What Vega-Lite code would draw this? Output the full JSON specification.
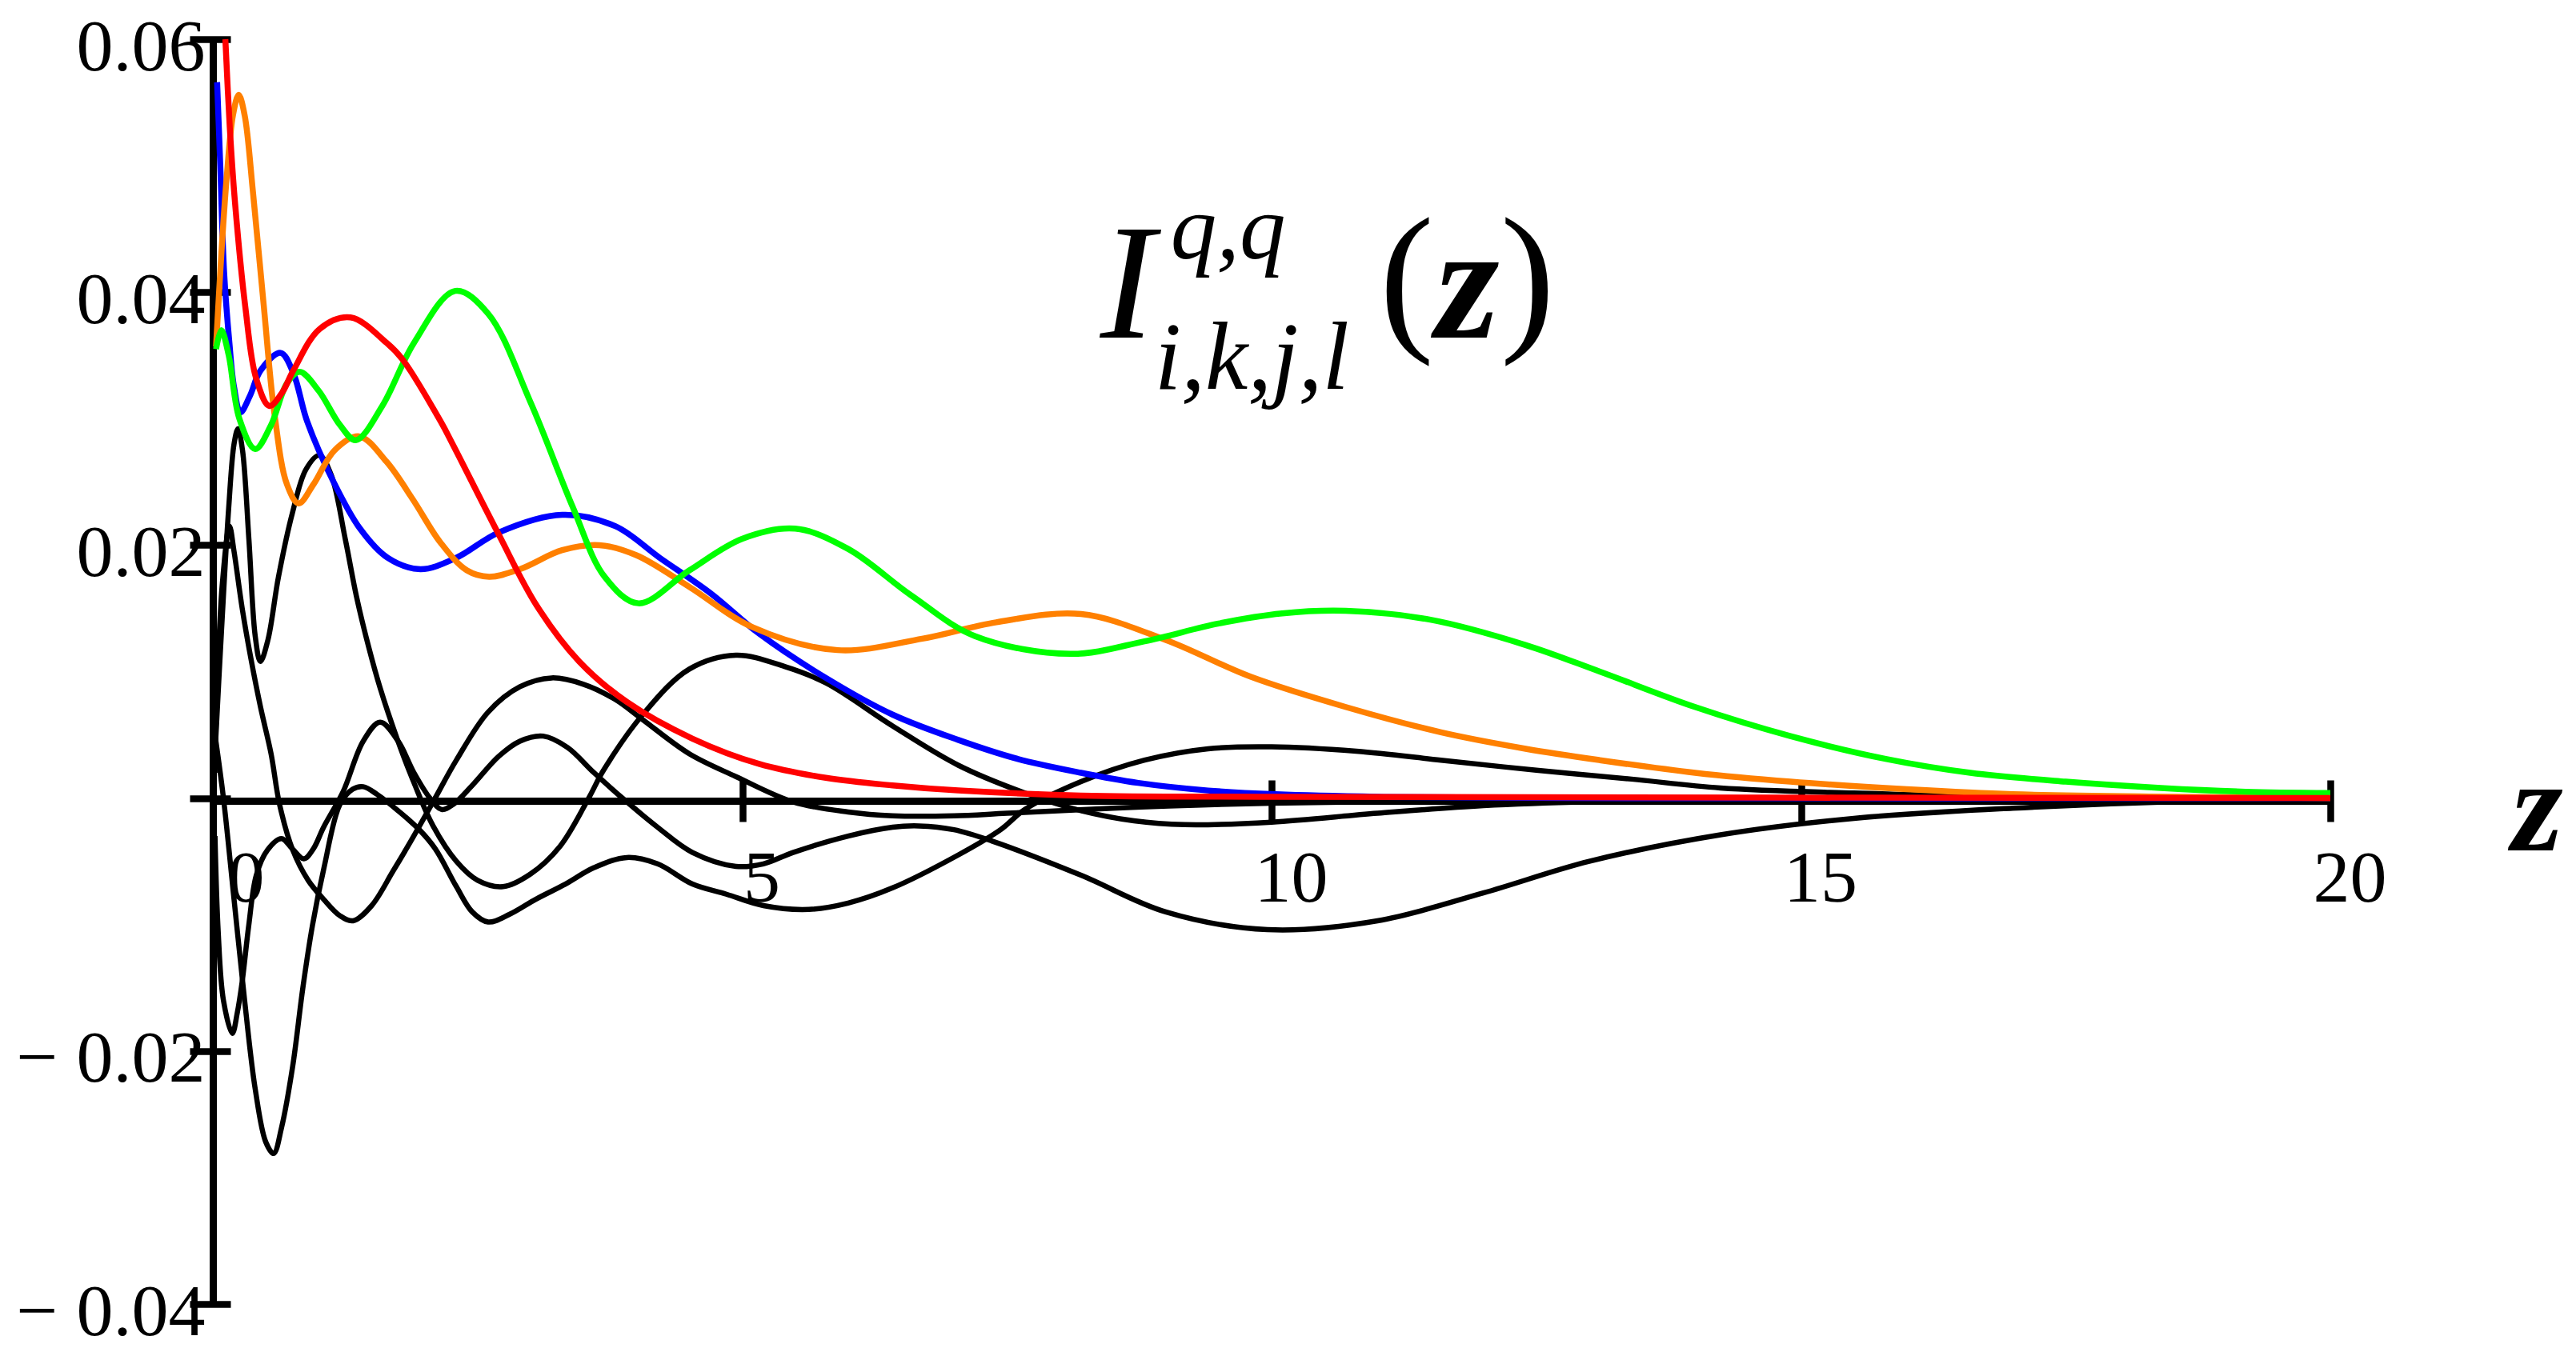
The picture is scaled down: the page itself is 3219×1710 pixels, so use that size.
{
  "$schema": "https://vega.github.io/schema/vega-lite/v6.json",
  "width": 2646,
  "height": 1581,
  "autosize": {"type": "none"},
  "padding": {"left": 266, "top": 49, "right": 307, "bottom": 80},
  "background": "white",
  "config": {"view": {"stroke": null}},
  "datasets": {
    "black": [
      {"s":"k1","z":0.02,"v":0.0035},{"s":"k1","z":0.08,"v":0.013},{"s":"k1","z":0.15,"v":0.023},{"s":"k1","z":0.2,"v":0.028},{"s":"k1","z":0.237,"v":0.0292},{"s":"k1","z":0.28,"v":0.0275},{"s":"k1","z":0.34,"v":0.0205},{"s":"k1","z":0.4,"v":0.0128},{"s":"k1","z":0.449,"v":0.0108},{"s":"k1","z":0.52,"v":0.0125},{"s":"k1","z":0.62,"v":0.0175},{"s":"k1","z":0.75,"v":0.0225},{"s":"k1","z":0.88,"v":0.026},{"s":"k1","z":1.006,"v":0.0271},{"s":"k1","z":1.12,"v":0.0255},{"s":"k1","z":1.25,"v":0.0205},{"s":"k1","z":1.36,"v":0.0158},{"s":"k1","z":1.47,"v":0.012},{"s":"k1","z":1.58,"v":0.0087},{"s":"k1","z":1.74,"v":0.0047},{"s":"k1","z":1.9,"v":0.0012},{"s":"k1","z":2.08,"v":-0.0022},{"s":"k1","z":2.3,"v":-0.005},{"s":"k1","z":2.5,"v":-0.0065},{"s":"k1","z":2.74,"v":-0.007},{"s":"k1","z":3.0,"v":-0.006},{"s":"k1","z":3.28,"v":-0.0038},{"s":"k1","z":3.55,"v":0.0},{"s":"k1","z":3.69,"v":0.0022},{"s":"k1","z":4.06,"v":0.0066},{"s":"k1","z":4.5,"v":0.0102},{"s":"k1","z":4.94,"v":0.0113},{"s":"k1","z":5.4,"v":0.0104},{"s":"k1","z":5.79,"v":0.0091},{"s":"k1","z":6.42,"v":0.0057},{"s":"k1","z":7.04,"v":0.0026},{"s":"k1","z":7.67,"v":0.0004},{"s":"k1","z":8.2,"v":-0.001},{"s":"k1","z":8.7,"v":-0.0018},{"s":"k1","z":9.18,"v":-0.0021},{"s":"k1","z":10,"v":-0.0019},{"s":"k1","z":11,"v":-0.0012},{"s":"k1","z":12,"v":-0.0006},{"s":"k1","z":13,"v":-0.0003},{"s":"k1","z":15,"v":-0.0001},{"s":"k1","z":20,"v":0.0},
      {"s":"k2","z":0.02,"v":0.002},{"s":"k2","z":0.04,"v":0.0087},{"s":"k2","z":0.09,"v":0.017},{"s":"k2","z":0.157,"v":0.0215},{"s":"k2","z":0.2,"v":0.0195},{"s":"k2","z":0.277,"v":0.015},{"s":"k2","z":0.36,"v":0.011},{"s":"k2","z":0.45,"v":0.0072},{"s":"k2","z":0.55,"v":0.0035},{"s":"k2","z":0.63,"v":-0.0005},{"s":"k2","z":0.754,"v":-0.0041},{"s":"k2","z":0.9,"v":-0.0065},{"s":"k2","z":1.046,"v":-0.008},{"s":"k2","z":1.2,"v":-0.0093},{"s":"k2","z":1.325,"v":-0.0097},{"s":"k2","z":1.5,"v":-0.0085},{"s":"k2","z":1.7,"v":-0.0058},{"s":"k2","z":1.87,"v":-0.0034},{"s":"k2","z":2.08,"v":-0.0003},{"s":"k2","z":2.3,"v":0.003},{"s":"k2","z":2.6,"v":0.0068},{"s":"k2","z":2.9,"v":0.0088},{"s":"k2","z":3.2,"v":0.0095},{"s":"k2","z":3.5,"v":0.009},{"s":"k2","z":3.8,"v":0.0078},{"s":"k2","z":4.06,"v":0.0062},{"s":"k2","z":4.5,"v":0.0035},{"s":"k2","z":4.94,"v":0.0017},{"s":"k2","z":5.48,"v":-0.0003},{"s":"k2","z":6.0,"v":-0.0011},{"s":"k2","z":6.42,"v":-0.0014},{"s":"k2","z":7.0,"v":-0.0014},{"s":"k2","z":7.5,"v":-0.0012},{"s":"k2","z":8.5,"v":-0.0008},{"s":"k2","z":10,"v":-0.0004},{"s":"k2","z":12,"v":-0.0002},{"s":"k2","z":14,"v":-0.0001},{"s":"k2","z":20,"v":0.0},
      {"s":"k3","z":0.02,"v":-0.003},{"s":"k3","z":0.05,"v":-0.0105},{"s":"k3","z":0.1,"v":-0.016},{"s":"k3","z":0.184,"v":-0.0186},{"s":"k3","z":0.23,"v":-0.017},{"s":"k3","z":0.277,"v":-0.0145},{"s":"k3","z":0.34,"v":-0.01},{"s":"k3","z":0.41,"v":-0.0061},{"s":"k3","z":0.516,"v":-0.0041},{"s":"k3","z":0.648,"v":-0.0032},{"s":"k3","z":0.75,"v":-0.004},{"s":"k3","z":0.86,"v":-0.0048},{"s":"k3","z":0.95,"v":-0.004},{"s":"k3","z":1.046,"v":-0.0023},{"s":"k3","z":1.23,"v":0.0005},{"s":"k3","z":1.42,"v":0.0045},{"s":"k3","z":1.58,"v":0.006},{"s":"k3","z":1.75,"v":0.0045},{"s":"k3","z":1.9,"v":0.002},{"s":"k3","z":2.05,"v":0.0},{"s":"k3","z":2.16,"v":-0.0009},{"s":"k3","z":2.27,"v":-0.0005},{"s":"k3","z":2.45,"v":0.001},{"s":"k3","z":2.7,"v":0.0033},{"s":"k3","z":2.9,"v":0.0045},{"s":"k3","z":3.12,"v":0.0049},{"s":"k3","z":3.35,"v":0.004},{"s":"k3","z":3.6,"v":0.002},{"s":"k3","z":3.91,"v":-0.0003},{"s":"k3","z":4.2,"v":-0.0023},{"s":"k3","z":4.53,"v":-0.0043},{"s":"k3","z":4.94,"v":-0.0054},{"s":"k3","z":5.2,"v":-0.0052},{"s":"k3","z":5.48,"v":-0.0043},{"s":"k3","z":6.0,"v":-0.003},{"s":"k3","z":6.42,"v":-0.0023},{"s":"k3","z":6.67,"v":-0.0022},{"s":"k3","z":7.0,"v":-0.0025},{"s":"k3","z":7.36,"v":-0.0034},{"s":"k3","z":8.2,"v":-0.0061},{"s":"k3","z":9.0,"v":-0.009},{"s":"k3","z":9.96,"v":-0.0104},{"s":"k3","z":11.0,"v":-0.0097},{"s":"k3","z":12.0,"v":-0.0075},{"s":"k3","z":13.0,"v":-0.005},{"s":"k3","z":14.24,"v":-0.0029},{"s":"k3","z":15.5,"v":-0.0016},{"s":"k3","z":17,"v":-0.0008},{"s":"k3","z":18.5,"v":-0.0003},{"s":"k3","z":20,"v":-0.0001},
      {"s":"k4","z":0.02,"v":0.005},{"s":"k4","z":0.1,"v":0.0},{"s":"k4","z":0.2,"v":-0.008},{"s":"k4","z":0.3,"v":-0.016},{"s":"k4","z":0.4,"v":-0.023},{"s":"k4","z":0.5,"v":-0.0272},{"s":"k4","z":0.574,"v":-0.0281},{"s":"k4","z":0.65,"v":-0.026},{"s":"k4","z":0.754,"v":-0.0212},{"s":"k4","z":0.85,"v":-0.015},{"s":"k4","z":0.94,"v":-0.0101},{"s":"k4","z":1.05,"v":-0.0055},{"s":"k4","z":1.2,"v":-0.0005},{"s":"k4","z":1.32,"v":0.0007},{"s":"k4","z":1.42,"v":0.0009},{"s":"k4","z":1.55,"v":0.0003},{"s":"k4","z":1.75,"v":-0.001},{"s":"k4","z":1.95,"v":-0.0025},{"s":"k4","z":2.1,"v":-0.004},{"s":"k4","z":2.3,"v":-0.007},{"s":"k4","z":2.45,"v":-0.009},{"s":"k4","z":2.6,"v":-0.0098},{"s":"k4","z":2.8,"v":-0.0092},{"s":"k4","z":3.05,"v":-0.008},{"s":"k4","z":3.33,"v":-0.0068},{"s":"k4","z":3.6,"v":-0.0055},{"s":"k4","z":3.91,"v":-0.0047},{"s":"k4","z":4.2,"v":-0.0052},{"s":"k4","z":4.53,"v":-0.0068},{"s":"k4","z":4.85,"v":-0.0076},{"s":"k4","z":5.2,"v":-0.0085},{"s":"k4","z":5.63,"v":-0.0088},{"s":"k4","z":6.0,"v":-0.0083},{"s":"k4","z":6.42,"v":-0.0071},{"s":"k4","z":7.04,"v":-0.0045},{"s":"k4","z":7.44,"v":-0.0025},{"s":"k4","z":7.67,"v":-0.0009},{"s":"k4","z":8.2,"v":0.0013},{"s":"k4","z":8.8,"v":0.003},{"s":"k4","z":9.4,"v":0.0039},{"s":"k4","z":10.0,"v":0.00405},{"s":"k4","z":10.8,"v":0.0037},{"s":"k4","z":11.6,"v":0.003},{"s":"k4","z":12.5,"v":0.0022},{"s":"k4","z":13.4,"v":0.0015},{"s":"k4","z":14.24,"v":0.0008},{"s":"k4","z":15.5,"v":0.0004},{"s":"k4","z":17,"v":0.0001},{"s":"k4","z":20,"v":0.0}
    ],
    "colored": [
      {"s":"blue","z":0.04,"v":0.0566},{"s":"blue","z":0.07,"v":0.05},{"s":"blue","z":0.106,"v":0.0416},{"s":"blue","z":0.156,"v":0.036},{"s":"blue","z":0.2,"v":0.0325},{"s":"blue","z":0.26,"v":0.0305},{"s":"blue","z":0.35,"v":0.0318},{"s":"blue","z":0.45,"v":0.0338},{"s":"blue","z":0.64,"v":0.0352},{"s":"blue","z":0.76,"v":0.0336},{"s":"blue","z":0.89,"v":0.0298},{"s":"blue","z":1.14,"v":0.025},{"s":"blue","z":1.39,"v":0.0213},{"s":"blue","z":1.65,"v":0.019},{"s":"blue","z":1.96,"v":0.0181},{"s":"blue","z":2.3,"v":0.019},{"s":"blue","z":2.7,"v":0.021},{"s":"blue","z":3.3,"v":0.0224},{"s":"blue","z":3.8,"v":0.0215},{"s":"blue","z":4.22,"v":0.019},{"s":"blue","z":4.7,"v":0.0162},{"s":"blue","z":5.16,"v":0.013},{"s":"blue","z":5.79,"v":0.0095},{"s":"blue","z":6.42,"v":0.0066},{"s":"blue","z":7.04,"v":0.0046},{"s":"blue","z":7.6,"v":0.0031},{"s":"blue","z":8.2,"v":0.002},{"s":"blue","z":8.74,"v":0.0012},{"s":"blue","z":9.4,"v":0.0006},{"s":"blue","z":10.04,"v":0.0003},{"s":"blue","z":11,"v":0.0001},{"s":"blue","z":12.8,"v":0.0},{"s":"blue","z":20,"v":0.0},
      {"s":"orange","z":0.03,"v":0.0357},{"s":"orange","z":0.08,"v":0.043},{"s":"orange","z":0.13,"v":0.049},{"s":"orange","z":0.19,"v":0.054},{"s":"orange","z":0.244,"v":0.0556},{"s":"orange","z":0.3,"v":0.054},{"s":"orange","z":0.38,"v":0.0478},{"s":"orange","z":0.48,"v":0.039},{"s":"orange","z":0.58,"v":0.0305},{"s":"orange","z":0.7,"v":0.0248},{"s":"orange","z":0.81,"v":0.0233},{"s":"orange","z":0.95,"v":0.0248},{"s":"orange","z":1.15,"v":0.0275},{"s":"orange","z":1.38,"v":0.0286},{"s":"orange","z":1.64,"v":0.0266},{"s":"orange","z":1.89,"v":0.0236},{"s":"orange","z":2.15,"v":0.0202},{"s":"orange","z":2.4,"v":0.018},{"s":"orange","z":2.61,"v":0.0175},{"s":"orange","z":2.9,"v":0.0181},{"s":"orange","z":3.3,"v":0.0196},{"s":"orange","z":3.65,"v":0.02},{"s":"orange","z":4.0,"v":0.0192},{"s":"orange","z":4.5,"v":0.0167},{"s":"orange","z":5.1,"v":0.0135},{"s":"orange","z":5.9,"v":0.0117},{"s":"orange","z":6.7,"v":0.0126},{"s":"orange","z":7.4,"v":0.0139},{"s":"orange","z":8.2,"v":0.01455},{"s":"orange","z":9.0,"v":0.0125},{"s":"orange","z":9.8,"v":0.0096},{"s":"orange","z":10.7,"v":0.0072},{"s":"orange","z":11.6,"v":0.0052},{"s":"orange","z":12.4,"v":0.0039},{"s":"orange","z":13.1,"v":0.003},{"s":"orange","z":14.0,"v":0.002},{"s":"orange","z":14.9,"v":0.0013},{"s":"orange","z":16,"v":0.0007},{"s":"orange","z":17,"v":0.0003},{"s":"orange","z":18.5,"v":0.0001},{"s":"orange","z":20,"v":0.0},
      {"s":"green","z":0.03,"v":0.0355},{"s":"green","z":0.08,"v":0.037},{"s":"green","z":0.15,"v":0.035},{"s":"green","z":0.25,"v":0.03},{"s":"green","z":0.4,"v":0.0276},{"s":"green","z":0.55,"v":0.0295},{"s":"green","z":0.7,"v":0.0328},{"s":"green","z":0.82,"v":0.0337},{"s":"green","z":1.0,"v":0.0322},{"s":"green","z":1.2,"v":0.0295},{"s":"green","z":1.35,"v":0.0283},{"s":"green","z":1.6,"v":0.031},{"s":"green","z":1.9,"v":0.036},{"s":"green","z":2.29,"v":0.0401},{"s":"green","z":2.6,"v":0.0383},{"s":"green","z":3.0,"v":0.0313},{"s":"green","z":3.4,"v":0.023},{"s":"green","z":3.7,"v":0.0175},{"s":"green","z":4.02,"v":0.0154},{"s":"green","z":4.5,"v":0.018},{"s":"green","z":5.0,"v":0.0205},{"s":"green","z":5.5,"v":0.0213},{"s":"green","z":6.0,"v":0.0197},{"s":"green","z":6.6,"v":0.016},{"s":"green","z":7.2,"v":0.0128},{"s":"green","z":8.1,"v":0.0114},{"s":"green","z":8.8,"v":0.0124},{"s":"green","z":9.5,"v":0.0138},{"s":"green","z":10.1,"v":0.0146},{"s":"green","z":10.7,"v":0.0148},{"s":"green","z":11.5,"v":0.0141},{"s":"green","z":12.4,"v":0.0121},{"s":"green","z":13.1,"v":0.01},{"s":"green","z":14.0,"v":0.0072},{"s":"green","z":14.9,"v":0.0049},{"s":"green","z":15.8,"v":0.0031},{"s":"green","z":16.6,"v":0.002},{"s":"green","z":17.5,"v":0.0013},{"s":"green","z":18.4,"v":0.0008},{"s":"green","z":19.2,"v":0.0005},{"s":"green","z":20,"v":0.0004},
      {"s":"red","z":0.118,"v":0.06},{"s":"red","z":0.16,"v":0.053},{"s":"red","z":0.207,"v":0.0473},{"s":"red","z":0.307,"v":0.0388},{"s":"red","z":0.408,"v":0.0332},{"s":"red","z":0.534,"v":0.031},{"s":"red","z":0.65,"v":0.032},{"s":"red","z":0.76,"v":0.0338},{"s":"red","z":1.01,"v":0.0371},{"s":"red","z":1.3,"v":0.038},{"s":"red","z":1.64,"v":0.036},{"s":"red","z":1.79,"v":0.0347},{"s":"red","z":2.15,"v":0.0298},{"s":"red","z":2.27,"v":0.0279},{"s":"red","z":2.69,"v":0.021},{"s":"red","z":3.06,"v":0.0152},{"s":"red","z":3.46,"v":0.0108},{"s":"red","z":3.91,"v":0.0076},{"s":"red","z":4.53,"v":0.0047},{"s":"red","z":5.16,"v":0.0027},{"s":"red","z":5.79,"v":0.0016},{"s":"red","z":6.42,"v":0.001},{"s":"red","z":7.04,"v":0.0006},{"s":"red","z":8.2,"v":0.0002},{"s":"red","z":10,"v":0.0001},{"s":"red","z":20,"v":0.0}
    ]
  },
  "resolve": {"axis": {"x": "independent", "y": "independent"}},
  "layer": [
    {
      "data": {"name": "black"},
      "mark": {"type": "line", "stroke": "black", "strokeWidth": 6.5, "interpolate": "catmull-rom"},
      "encoding": {
        "x": {"field": "z", "type": "quantitative",
              "scale": {"domain": [0, 20], "nice": false, "zero": false},
              "axis": {"orient": "bottom", "offset": -629, "values": [0, 5, 10, 15, 20], "format": "d",
                       "ticks": false, "grid": false, "domain": true, "domainColor": "black", "domainWidth": 9,
                       "labelFont": "Liberation Serif", "labelFontSize": 92, "labelColor": "black",
                       "labelBaseline": "alphabetic", "labelPadding": 125, "labelAlign": "center",
                       "labelOffset": {"condition": {"test": "datum.value == 0", "value": 41}, "value": 24},
                       "labelFlush": false, "labelOverlap": false, "labelBound": false, "labelLimit": 1000,
                       "title": "z", "titleFont": "Liberation Serif", "titleFontStyle": "italic", "titleFontWeight": "bold",
                       "titleFontSize": 165, "titleColor": "black", "titleX": 2904, "titleY": 61,
                       "titleAlign": "center", "titleBaseline": "alphabetic", "titleAngle": 0}},
        "y": {"field": "v", "type": "quantitative",
              "scale": {"domain": [-0.04, 0.06], "nice": false, "zero": false},
              "axis": {"orient": "left", "offset": 0, "values": [-0.04, -0.02, 0.02, 0.04, 0.06],
                       "ticks": false, "grid": false, "domain": true, "domainColor": "black", "domainWidth": 9,
                       "labelFont": "Liberation Serif", "labelFontSize": 92, "labelColor": "black",
                       "labelBaseline": "alphabetic", "labelAlign": "right", "labelPadding": 10, "labelOffset": 38,
                       "labelExpr": "datum.value < 0 ? '\u2212 ' + format(-datum.value, '.2f') : format(datum.value, '.2f')",
                       "labelFlush": false, "labelOverlap": false, "labelBound": false, "labelLimit": 1000, "title": null}},
        "detail": {"field": "s", "type": "nominal"}
      }
    },
    {
      "data": {"name": "colored"},
      "mark": {"type": "line", "strokeWidth": 7.5, "interpolate": "catmull-rom"},
      "encoding": {
        "x": {"field": "z", "type": "quantitative",
              "axis": {"orient": "bottom", "offset": -655, "values": [0, 5, 10, 15, 20],
                       "ticks": true, "tickSize": 52, "tickWidth": 8.5, "tickColor": "black",
                       "labels": false, "domain": false, "grid": false, "title": null}},
        "y": {"field": "v", "type": "quantitative",
              "axis": {"orient": "left", "offset": -22, "values": [-0.04, -0.02, 0, 0.02, 0.04, 0.06],
                       "ticks": true, "tickSize": 51, "tickWidth": 8.5, "tickColor": "black",
                       "labels": false, "domain": false, "grid": false, "title": null}},
        "color": {"field": "s", "type": "nominal",
                  "scale": {"domain": ["blue", "orange", "green", "red"], "range": ["#0000ff", "#ff8000", "#00ff00", "#ff0000"]},
                  "legend": null},
        "order": {"field": "z", "type": "quantitative"}
      }
    },
    {
      "data": {"values": [{}]},
      "mark": {"type": "text", "text": "I", "font": "Liberation Serif", "fontStyle": "italic", "fontSize": 205, "align": "left", "baseline": "alphabetic", "color": "black"},
      "encoding": {"x": {"datum": 8.38, "type": "quantitative", "axis": null}, "y": {"datum": 0.0364, "type": "quantitative", "axis": null}}
    },
    {
      "data": {"values": [{}]},
      "mark": {"type": "text", "text": "q,q", "font": "Liberation Serif", "fontStyle": "italic", "fontSize": 115, "align": "left", "baseline": "alphabetic", "color": "black", "dx": 88, "dy": -99},
      "encoding": {"x": {"datum": 8.38, "type": "quantitative", "axis": null}, "y": {"datum": 0.0364, "type": "quantitative", "axis": null}}
    },
    {
      "data": {"values": [{}]},
      "mark": {"type": "text", "text": "i,k,j,l", "font": "Liberation Serif", "fontStyle": "italic", "fontSize": 120, "align": "left", "baseline": "alphabetic", "color": "black", "dx": 68, "dy": 64},
      "encoding": {"x": {"datum": 8.38, "type": "quantitative", "axis": null}, "y": {"datum": 0.0364, "type": "quantitative", "axis": null}}
    },
    {
      "data": {"values": [{}]},
      "mark": {"type": "text", "text": "(", "font": "Liberation Serif", "fontSize": 205, "align": "left", "baseline": "alphabetic", "color": "black", "dx": 349, "dy": -8},
      "encoding": {"x": {"datum": 8.38, "type": "quantitative", "axis": null}, "y": {"datum": 0.0364, "type": "quantitative", "axis": null}}
    },
    {
      "data": {"values": [{}]},
      "mark": {"type": "text", "text": "z", "font": "Liberation Serif", "fontStyle": "italic", "fontWeight": "bold", "fontSize": 205, "align": "left", "baseline": "alphabetic", "color": "black", "dx": 419},
      "encoding": {"x": {"datum": 8.38, "type": "quantitative", "axis": null}, "y": {"datum": 0.0364, "type": "quantitative", "axis": null}}
    },
    {
      "data": {"values": [{}]},
      "mark": {"type": "text", "text": ")", "font": "Liberation Serif", "fontSize": 205, "align": "left", "baseline": "alphabetic", "color": "black", "dx": 500, "dy": -8},
      "encoding": {"x": {"datum": 8.38, "type": "quantitative", "axis": null}, "y": {"datum": 0.0364, "type": "quantitative", "axis": null}}
    }
  ]
}
